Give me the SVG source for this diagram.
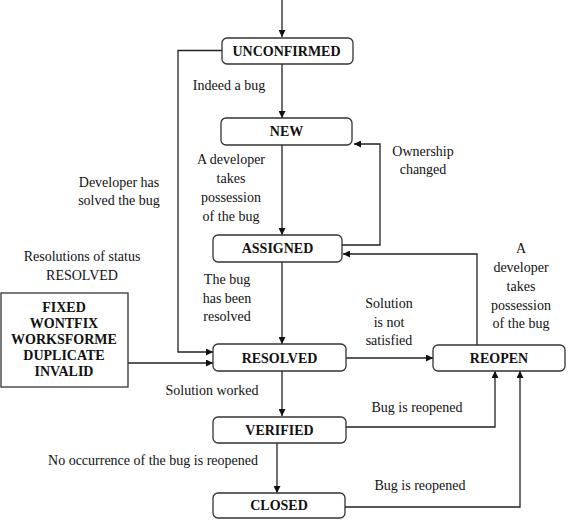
<svg xmlns="http://www.w3.org/2000/svg" width="568" height="520" viewBox="0 0 568 520">
<style>
.box{fill:#fff;stroke:#333;stroke-width:1.3}
.st{font-family:"Liberation Serif","Times New Roman",serif;font-size:14px;font-weight:bold;fill:#111;text-anchor:middle}
.lb{font-family:"Liberation Serif","Times New Roman",serif;font-size:14px;fill:#111;text-anchor:middle}
.ln{fill:none;stroke:#222;stroke-width:1.3}
</style>
<defs>
<marker id="ah" viewBox="0 0 10 10" refX="10" refY="5" markerWidth="7" markerHeight="7" markerUnits="userSpaceOnUse" orient="auto">
<path d="M0,0 L10,5 L0,10 z" fill="#111"/>
</marker>
</defs>
<rect width="568" height="520" fill="#fff"/>
<g id="connectors">
<path class="ln" d="M282,0 V37" marker-end="url(#ah)"/>
<path class="ln" d="M282,64 V118" marker-end="url(#ah)"/>
<path class="ln" d="M282,145 V235" marker-end="url(#ah)"/>
<path class="ln" d="M342,245 H380 V144 H354" marker-end="url(#ah)"/>
<path class="ln" d="M477,345 V254 H343" marker-end="url(#ah)"/>
<path class="ln" d="M222,50.5 H178 V352 H213" marker-end="url(#ah)"/>
<path class="ln" d="M128,363 H213" marker-end="url(#ah)"/>
<path class="ln" d="M282,262 V344" marker-end="url(#ah)"/>
<path class="ln" d="M346,358 H433" marker-end="url(#ah)"/>
<path class="ln" d="M282,371 V416" marker-end="url(#ah)"/>
<path class="ln" d="M277,443 V493" marker-end="url(#ah)"/>
<path class="ln" d="M346,427 H495 V371" marker-end="url(#ah)"/>
<path class="ln" d="M345,507 H520 V371" marker-end="url(#ah)"/>
</g>
<g id="labels">
<text class="lb" x="229" y="90">Indeed a bug</text>
<text class="lb"><tspan x="231" y="164">A developer</tspan><tspan x="231" y="183">takes</tspan><tspan x="231" y="202">possession</tspan><tspan x="231" y="221">of the bug</tspan></text>
<text class="lb"><tspan x="423" y="156">Ownership</tspan><tspan x="423" y="174">changed</tspan></text>
<text class="lb"><tspan x="119" y="187">Developer has</tspan><tspan x="119" y="205">solved the bug</tspan></text>
<text class="lb"><tspan x="82" y="261">Resolutions of status</tspan><tspan x="82" y="280">RESOLVED</tspan></text>
<text class="lb"><tspan x="227" y="284">The bug</tspan><tspan x="227" y="303">has been</tspan><tspan x="227" y="321">resolved</tspan></text>
<text class="lb"><tspan x="389" y="308">Solution</tspan><tspan x="389" y="327">is not</tspan><tspan x="389" y="345">satisfied</tspan></text>
<text class="lb"><tspan x="521" y="253">A</tspan><tspan x="521" y="272">developer</tspan><tspan x="521" y="291">takes</tspan><tspan x="521" y="310">possession</tspan><tspan x="521" y="328">of the bug</tspan></text>
<text class="lb" x="212" y="395">Solution worked</text>
<text class="lb" x="417" y="412">Bug is reopened</text>
<text class="lb" x="153" y="465">No occurrence of the bug is reopened</text>
<text class="lb" x="420" y="490">Bug is reopened</text>
</g>
<g id="resolutions">
<rect class="box" x="1" y="293" width="127" height="94"/>
<text class="st"><tspan x="64" y="312">FIXED</tspan><tspan x="64" y="328">WONTFIX</tspan><tspan x="64" y="344">WORKSFORME</tspan><tspan x="64" y="360">DUPLICATE</tspan><tspan x="64" y="376">INVALID</tspan></text>
</g>
<g id="unconfirmed">
<rect class="box" x="222" y="38" width="131" height="26" rx="5"/>
<text class="st" x="286.5" y="56">UNCONFIRMED</text>
</g>
<g id="new">
<rect class="box" x="221" y="118" width="131" height="27" rx="5"/>
<text class="st" x="286.5" y="136">NEW</text>
</g>
<g id="assigned">
<rect class="box" x="213" y="235" width="129" height="27" rx="5"/>
<text class="st" x="277.5" y="253">ASSIGNED</text>
</g>
<g id="resolved">
<rect class="box" x="213" y="344" width="133" height="27" rx="5"/>
<text class="st" x="279.5" y="362.5">RESOLVED</text>
</g>
<g id="reopen">
<rect class="box" x="433" y="345" width="132" height="26" rx="5"/>
<text class="st" x="499" y="362.5">REOPEN</text>
</g>
<g id="verified">
<rect class="box" x="213" y="417" width="133" height="26" rx="5"/>
<text class="st" x="279.5" y="434.5">VERIFIED</text>
</g>
<g id="closed">
<rect class="box" x="213" y="493" width="132" height="25" rx="5"/>
<text class="st" x="279" y="510">CLOSED</text>
</g>
</svg>
